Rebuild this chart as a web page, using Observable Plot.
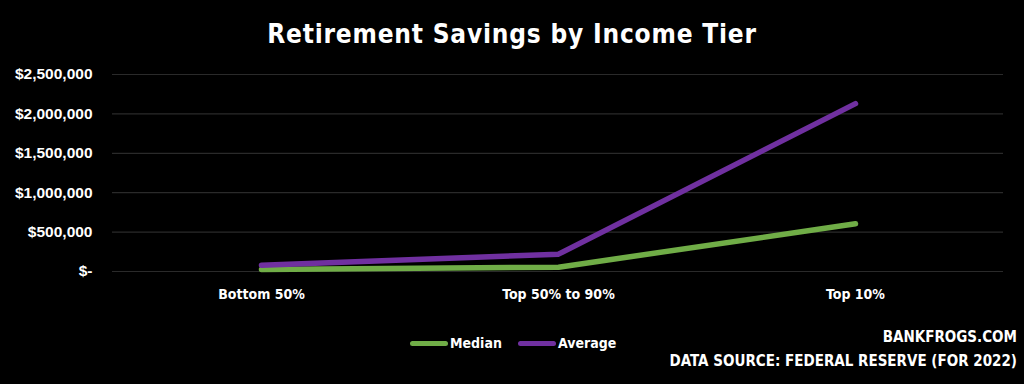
<!DOCTYPE html>
<html>
<head>
<meta charset="utf-8">
<script src="https://cdn.jsdelivr.net/npm/d3@7"></script>
<script src="https://cdn.jsdelivr.net/npm/@observablehq/plot@0.6"></script>
<style>
  html, body { margin: 0; padding: 0; background: #000; }
  #wrap { position: relative; width: 1024px; height: 384px; background: #000; overflow: hidden; }
  #title { position: absolute; left: 0; top: 0; width: 1024px; height: 62px; line-height: 68px; text-align: center;
    color: #fff; font-family: "DejaVu Sans Condensed", "DejaVu Sans", sans-serif; font-weight: bold; font-size: 26px; letter-spacing: 0.8px; }
  #chart { position: absolute; left: 0; top: 62px; }
  .leg { position: absolute; top: 334px; height: 18px; display: flex; align-items: center; color: #fff;
    font-family: "DejaVu Sans Condensed", "DejaVu Sans", sans-serif; font-weight: bold; font-size: 14px; }
  .sw { display: inline-block; width: 38px; height: 5px; border-radius: 3px; margin-right: 2px; }
  .src { position: absolute; right: 7px; color: #fff; text-align: right;
    font-family: "DejaVu Sans Condensed", "DejaVu Sans", sans-serif; font-weight: bold; font-size: 15px; line-height: 18px; }
</style>
</head>
<body>
<div id="wrap">
  <div id="title">Retirement Savings by Income Tier</div>
  <div id="chart"></div>
  <div id="legend"></div>
  <div class="src" style="top:328px">BANKFROGS.COM</div>
  <div class="src" style="top:352px">DATA SOURCE: FEDERAL RESERVE (FOR 2022)</div>
</div>
<script>
const tiers = ["Bottom 50%", "Top 50% to 90%", "Top 10%"];
const seriesNames = ["Median", "Average"];
const seriesColors = ["#70AD47", "#7030A0"];
const medianValues = [25000, 55000, 605000];
const averageValues = [80000, 220000, 2130000];
const yTicks = [0, 500000, 1000000, 1500000, 2000000, 2500000];

const data = [];
tiers.forEach((t, i) => {
  data.push({tier: t, series: "Median", value: medianValues[i]});
  data.push({tier: t, series: "Average", value: averageValues[i]});
});

const font = "DejaVu Sans Condensed, DejaVu Sans, sans-serif";
const fmt = v => v === 0 ? "$-" : "$" + d3.format(",")(v);

const plot = Plot.plot({
  width: 1024,
  height: 248,
  marginTop: 12,
  marginBottom: 39,
  marginLeft: 112,
  marginRight: 21,
  style: {background: "#000", color: "#fff"},
  x: {type: "point", domain: tiers, padding: 0.5},
  y: {domain: [0, 2500000]},
  color: {domain: seriesNames, range: seriesColors},
  marks: [
    Plot.gridY(yTicks, {stroke: "#2a2a2a", strokeOpacity: 1, strokeWidth: 1.2}),
    Plot.axisY(yTicks, {tickSize: 0, tickPadding: 20, tickFormat: fmt, fontSize: 15.5, fontWeight: "bold",
      fontFamily: "Liberation Sans, Arial, sans-serif", fill: "#fff", label: null}),
    Plot.axisX({tickSize: 0, tickPadding: 18, fontSize: 14, fontWeight: "bold", fontFamily: font, fill: "#fff", label: null}),
    Plot.line(data, {x: "tier", y: "value", z: "series", stroke: "series", strokeWidth: 5.5,
      strokeLinecap: "round", strokeLinejoin: "round"})
  ]
});
document.getElementById("chart").appendChild(plot);

const legendPos = [410, 518];
const leg = document.getElementById("legend");
seriesNames.forEach((s, i) => {
  const el = document.createElement("div");
  el.className = "leg";
  el.style.left = legendPos[i] + "px";
  el.innerHTML = `<span class="sw" style="background:${seriesColors[i]}"></span>${s}`;
  leg.appendChild(el);
});
</script>
</body>
</html>
